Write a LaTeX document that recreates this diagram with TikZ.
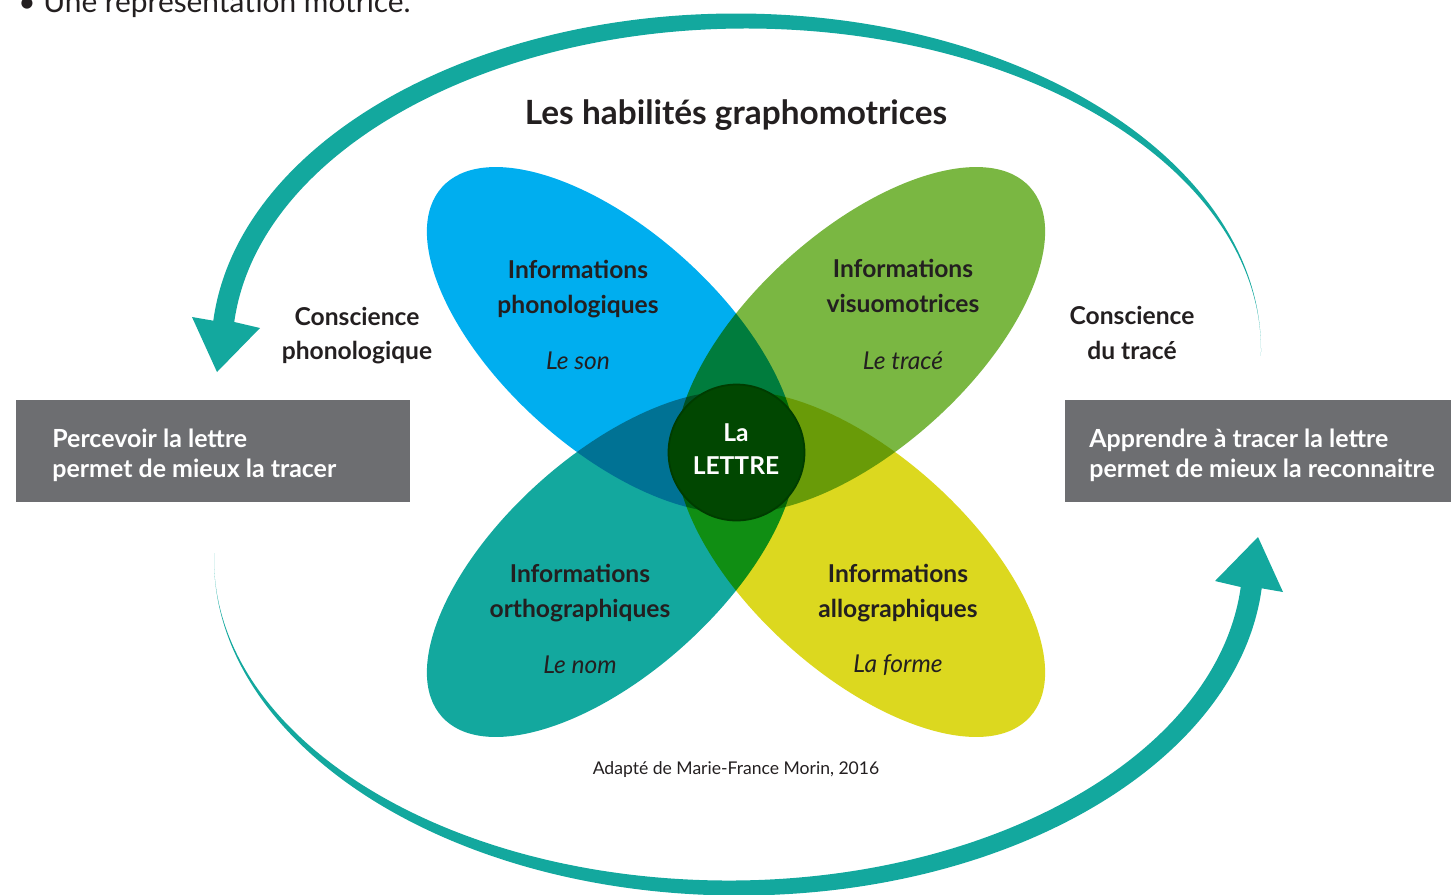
\documentclass[tikz,border=0pt]{standalone}
\usepackage{fontspec}
\setmainfont{Lato}
\usetikzlibrary{positioning}

\definecolor{loopteal}{HTML}{13A89E}
\definecolor{phonblue}{HTML}{00AEEF}
\definecolor{visugreen}{HTML}{7AB742}
\definecolor{orthoteal}{HTML}{13A89E}
\definecolor{alloyellow}{HTML}{DCD81F}
\definecolor{panelgray}{HTML}{6D6E71}
\definecolor{inkgray}{HTML}{231F20}
\definecolor{coregreen}{HTML}{014701}
\definecolor{coreedge}{HTML}{003C00}

\begin{document}
\begin{tikzpicture}[x=0.02cm, y=-0.02cm,
        petal/.style={blend mode=multiply},
        lbl/.style={font=\fontsize{14}{19.8}\selectfont\bfseries, text=inkgray, align=center, inner sep=0pt},
        sub/.style={font=\fontsize{14}{17}\selectfont\itshape, text=inkgray, inner sep=0pt},
        panel/.style={fill=panelgray, anchor=north west, minimum height=2.04cm, inner sep=0pt},
        paneltxt/.style={font=\fontsize{14.2}{17.6}\selectfont\bfseries, text=white, align=left, anchor=west, inner sep=0pt},
        loop/.style={fill=loopteal} % tapering arrow body + head
    ]
    \useasboundingbox (0,0) rectangle (1451,894);
    \begin{scope}
    \clip (0,0) rectangle (1451,894);
    % line of the page above, cut by the picture
    \node[anchor=base west, inner sep=0pt, font=\fontsize{17}{20}\selectfont, text=inkgray] (pagetxt) at (18,12) {• Une représentation motrice.};
    \end{scope}

    % Big loop - upper arrow, the lower one is the same turned half round
    % outer and inner edges are two ellipses, shifted so the stroke tapers
    \foreach \turn in {0,180}{
    \begin{scope}[rotate around={\turn:(737.5,454.5)}]
    \fill[loop] (736.15,350) ++(1:524.85 and 336.5) arc[start angle=1, end angle=-175, x radius=524.85, y radius=336.5]
        -- (192,317) -- (217,372) -- (260,328) % head
        -- (234.26,321.98) arc[start angle=-175, end angle=1, x radius=514.35, y radius=321.5] -- cycle;
    \end{scope}
    }

    % Title
    \node[font=\fontsize{19}{23}\selectfont\bfseries, text=inkgray, inner sep=0pt] (title) at (736,115) {Les habilités graphomotrices};

    % Four petals (overlaps come from multiply)
    \fill[petal, phonblue, rotate around={-42:(611.4,339.8)}] (611.4,339.8) ellipse [x radius=228, y radius=109];
    \fill[petal, visugreen, rotate around={42:(860.6,339.8)}] (860.6,339.8) ellipse [x radius=228, y radius=109];
    \fill[petal, orthoteal, rotate around={42:(611.4,564.2)}] (611.4,564.2) ellipse [x radius=228, y radius=109];
    \fill[petal, alloyellow, rotate around={-42:(860.6,564.2)}] (860.6,564.2) ellipse [x radius=228, y radius=109];

    % Centre
    \node[circle, fill=coregreen, draw=coreedge, line width=1pt, minimum size=2.72cm] (core) at (736.5,452.5) {};
    \node[font=\fontsize{14}{19}\selectfont\bfseries, text=white, align=center, inner sep=0pt] (corelbl) at (736,449) {La\\LETTRE};

    % Petal labels
    \node[lbl] (phonlbl) at (578,289) {Informations\\phonologiques};
    \node[sub] (phonsub) at (578,361) {Le son};
    \node[lbl] (visulbl) at (903,286) {Informations\\visuomotrices};
    \node[sub] (visusub) at (903,361) {Le tracé};
    \node[lbl] (ortholbl) at (580,593) {Informations\\orthographiques};
    \node[sub] (orthosub) at (580,665) {Le nom};
    \node[lbl] (allolbl) at (898,593) {Informations\\allographiques};
    \node[sub] (allosub) at (898,665) {La forme};

    % Side labels
    \node[lbl] (conphon) at (357,335.5) {Conscience\\phonologique};
    \node[lbl] (contrace) at (1132,333) {Conscience\\du tracé};

    % Grey panels
    \node[panel, minimum width=7.88cm] (percbox) at (16,400) {};
    \node[paneltxt] (perctxt) at ([xshift=0.72cm, yshift=-0.08cm]percbox.west) {Percevoir la lettre\\permet de mieux la tracer};
    \node[panel, minimum width=7.72cm] (apprbox) at (1065,400) {};
    \node[paneltxt] (apprtxt) at ([xshift=0.48cm, yshift=-0.08cm]apprbox.west) {Apprendre à tracer la lettre\\permet de mieux la reconnaitre};

    % Source
    \node[font=\fontsize{10}{12}\selectfont, text=inkgray, inner sep=0pt] (source) at (736,770) {Adapté de Marie-France Morin, 2016};
\end{tikzpicture}
\end{document}
